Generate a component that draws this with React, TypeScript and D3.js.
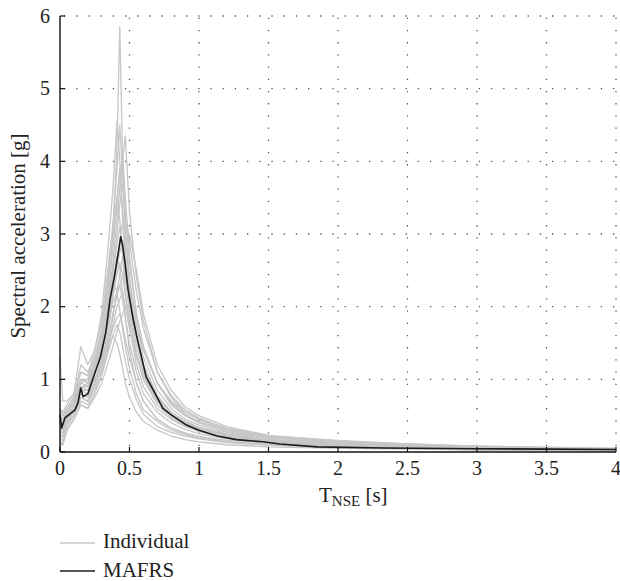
import React from "react";
import * as d3 from "d3";

const periods = [0, 0.02, 0.05, 0.1, 0.15, 0.2, 0.25, 0.3, 0.35, 0.38, 0.41, 0.43, 0.45, 0.47, 0.5, 0.55, 0.6, 0.7, 0.8, 0.9, 1.0, 1.2, 1.5, 2.0, 2.5, 3.0, 4.0];

const individual: number[][] = [
  [0.45, 0.4, 0.55, 0.7, 0.95, 1.0, 1.25, 1.6, 2.3, 3.0, 4.2, 5.85, 4.1, 3.0, 2.3, 1.6, 1.2, 0.75, 0.52, 0.4, 0.32, 0.22, 0.14, 0.09, 0.06, 0.05, 0.03],
  [0.6, 0.5, 0.6, 0.75, 1.1, 1.05, 1.4, 1.9, 2.9, 3.6, 4.55, 4.0, 3.2, 2.6, 2.0, 1.45, 1.1, 0.7, 0.5, 0.38, 0.3, 0.2, 0.13, 0.08, 0.06, 0.04, 0.03],
  [0.3, 0.35, 0.5, 0.65, 0.85, 0.95, 1.2, 1.7, 2.5, 3.1, 3.9, 4.5, 3.8, 3.1, 2.4, 1.75, 1.3, 0.85, 0.6, 0.45, 0.37, 0.25, 0.16, 0.1, 0.07, 0.05, 0.03],
  [0.5, 0.45, 0.55, 0.7, 1.0, 1.0, 1.2, 1.5, 2.1, 2.6, 3.2, 3.6, 4.0, 4.35, 3.3, 2.4, 1.8, 1.1, 0.75, 0.55, 0.45, 0.3, 0.2, 0.12, 0.08, 0.06, 0.04],
  [0.4, 0.3, 0.45, 0.6, 0.9, 0.9, 1.15, 1.55, 2.2, 2.8, 3.4, 3.8, 4.1, 3.5, 2.7, 1.9, 1.45, 0.95, 0.65, 0.5, 0.4, 0.27, 0.17, 0.11, 0.08, 0.05, 0.03],
  [0.55, 0.5, 0.6, 0.75, 1.2, 1.1, 1.3, 1.7, 2.4, 2.9, 3.5, 3.9, 3.4, 2.8, 2.2, 1.6, 1.2, 0.78, 0.55, 0.42, 0.34, 0.23, 0.15, 0.1, 0.06, 0.05, 0.03],
  [0.35, 0.3, 0.5, 0.6, 0.85, 0.85, 1.1, 1.45, 2.0, 2.5, 3.0, 3.4, 3.7, 3.3, 2.6, 1.9, 1.4, 0.95, 0.68, 0.52, 0.42, 0.3, 0.2, 0.13, 0.09, 0.06, 0.04],
  [1.3, 0.7, 0.7, 0.8, 1.45, 1.2, 1.4, 1.8, 2.6, 3.1, 3.5, 3.2, 2.7, 2.2, 1.7, 1.2, 0.9, 0.6, 0.45, 0.35, 0.28, 0.19, 0.12, 0.08, 0.05, 0.04, 0.02],
  [0.25, 0.2, 0.4, 0.55, 0.8, 0.75, 0.95, 1.25, 1.7, 2.1, 2.6, 2.9, 3.15, 3.3, 2.9, 2.2, 1.7, 1.1, 0.78, 0.58, 0.47, 0.32, 0.21, 0.14, 0.1, 0.07, 0.04],
  [0.45, 0.4, 0.55, 0.7, 1.0, 0.95, 1.15, 1.45, 2.0, 2.45, 2.85, 3.1, 2.8, 2.4, 1.9, 1.35, 1.0, 0.65, 0.47, 0.36, 0.29, 0.2, 0.13, 0.09, 0.06, 0.04, 0.03],
  [0.5, 0.35, 0.5, 0.65, 0.95, 0.9, 1.1, 1.4, 1.85, 2.2, 2.55, 2.75, 2.9, 2.6, 2.1, 1.55, 1.15, 0.75, 0.55, 0.42, 0.34, 0.24, 0.17, 0.12, 0.08, 0.05, 0.03],
  [0.2, 0.15, 0.35, 0.5, 0.75, 0.7, 0.95, 1.3, 1.9, 2.3, 2.7, 2.55, 2.2, 1.85, 1.4, 0.95, 0.7, 0.45, 0.33, 0.26, 0.21, 0.15, 0.1, 0.07, 0.05, 0.03, 0.02],
  [0.4, 0.35, 0.5, 0.65, 0.9, 0.85, 1.0, 1.25, 1.6, 1.9, 2.15, 2.3, 2.4, 2.5, 2.3, 1.85, 1.45, 0.95, 0.65, 0.5, 0.4, 0.28, 0.19, 0.15, 0.1, 0.07, 0.04],
  [0.6, 0.55, 0.65, 0.8, 1.1, 1.05, 1.3, 1.65, 2.15, 2.35, 2.2, 1.95, 1.7, 1.45, 1.15, 0.8, 0.58, 0.42, 0.3, 0.24, 0.19, 0.14, 0.1, 0.07, 0.05, 0.04, 0.02],
  [0.3, 0.25, 0.4, 0.5, 0.7, 0.65, 0.85, 1.1, 1.5, 1.75, 2.0, 2.1, 2.2, 2.0, 1.7, 1.3, 1.0, 0.7, 0.5, 0.4, 0.33, 0.24, 0.17, 0.12, 0.09, 0.06, 0.04],
  [0.15, 0.1, 0.3, 0.45, 0.65, 0.6, 0.75, 0.95, 1.25, 1.45, 1.65, 1.8, 1.9, 2.0, 2.05, 1.75, 1.4, 0.95, 0.7, 0.55, 0.45, 0.33, 0.22, 0.16, 0.11, 0.08, 0.05],
  [0.5, 0.45, 0.55, 0.7, 0.9, 0.85, 1.0, 1.2, 1.5, 1.7, 1.85, 1.9, 1.75, 1.55, 1.3, 0.95, 0.7, 0.45, 0.33, 0.26, 0.21, 0.16, 0.13, 0.15, 0.1, 0.06, 0.04],
  [0.35, 0.3, 0.45, 0.55, 0.75, 0.7, 0.9, 1.15, 1.45, 1.6, 1.75, 1.65, 1.45, 1.25, 1.0, 0.72, 0.52, 0.35, 0.27, 0.22, 0.18, 0.13, 0.09, 0.06, 0.05, 0.03, 0.02],
  [0.45, 0.4, 0.5, 0.65, 0.95, 0.9, 1.1, 1.35, 1.8, 2.15, 2.45, 2.6, 2.45, 2.15, 1.8, 1.35, 1.05, 0.7, 0.5, 0.4, 0.33, 0.23, 0.16, 0.11, 0.08, 0.05, 0.03],
  [0.3, 0.25, 0.45, 0.6, 0.85, 0.8, 0.95, 1.2, 1.55, 1.85, 2.2, 2.45, 2.7, 2.85, 3.0, 2.5, 1.9, 1.2, 0.85, 0.62, 0.5, 0.35, 0.23, 0.15, 0.11, 0.08, 0.05],
  [0.1, 0.1, 0.3, 0.45, 0.65, 0.6, 0.8, 1.05, 1.4, 1.6, 1.5, 1.35, 1.15, 0.95, 0.75, 0.55, 0.42, 0.3, 0.22, 0.17, 0.14, 0.1, 0.07, 0.05, 0.04, 0.03, 0.02],
  [0.55, 0.5, 0.6, 0.75, 1.0, 0.95, 1.15, 1.4, 1.8, 2.05, 2.2, 2.3, 2.1, 1.85, 1.5, 1.1, 0.8, 0.55, 0.4, 0.31, 0.25, 0.18, 0.12, 0.09, 0.07, 0.05, 0.03],
];

const meanPeriods = [0, 0.012, 0.036, 0.07, 0.108, 0.13, 0.149, 0.166, 0.2, 0.25, 0.29, 0.33, 0.36, 0.39, 0.42, 0.437, 0.45, 0.468, 0.49, 0.527, 0.563, 0.62, 0.683, 0.74, 0.8, 0.91, 1.0, 1.13, 1.27, 1.46, 1.58, 1.85, 2.33, 3.0, 3.5, 4.0];
const meanValues = [0.51, 0.33, 0.47, 0.52, 0.58, 0.68, 0.88, 0.76, 0.8, 1.08, 1.3, 1.65, 2.1, 2.4, 2.75, 2.96, 2.85, 2.6, 2.23, 1.82, 1.5, 1.03, 0.81, 0.6, 0.51, 0.37, 0.3, 0.22, 0.17, 0.14, 0.11, 0.07, 0.055, 0.045, 0.04, 0.035];

const xTicks = [0, 0.5, 1, 1.5, 2, 2.5, 3, 3.5, 4];
const yTicks = [0, 1, 2, 3, 4, 5, 6];
const legendItems = ["Individual", "MAFRS"];

const W = 620, H = 581;
const left = 60, right = 616, top = 16, bottom = 452;
const FONT = '"Liberation Serif", "Times New Roman", Tinos, "Nimbus Roman", FreeSerif';

function Txt(props: any) {
  const { children, ...rest } = props;
  return (
    <text fill="#222" fontFamily={FONT} {...rest} style={{ fontFamily: FONT }}>
      {children}
    </text>
  );
}

export default function App() {
  const x = d3.scaleLinear().domain([0, 4]).range([left, right]);
  const y = d3.scaleLinear().domain([0, 6]).range([bottom, top]);
  const line = d3.line<[number, number]>().x((d) => x(d[0])).y((d) => y(d[1]));
  const grey = "#c6c6c6";
  const dark = "#1c1c1c";

  return (
    <div style={{ position: "absolute", left: 0, top: 0, width: W, height: H, fontFamily: FONT }}>
      <svg width={W} height={H} style={{ display: "block", background: "#fff" }} fontFamily={FONT}>
        {xTicks.slice(1).map((t) => (
          <line key={"gx" + t} x1={x(t)} x2={x(t)} y1={bottom} y2={top} stroke="#555" strokeWidth={1.3} strokeDasharray="1.3 10.9" strokeDashoffset={-6} />
        ))}
        {yTicks.slice(1).map((t) => (
          <line key={"gy" + t} x1={left} x2={right} y1={y(t)} y2={y(t)} stroke="#555" strokeWidth={1.3} strokeDasharray="1.3 10.9" strokeDashoffset={-4} />
        ))}
        {individual.map((vals, i) => (
          <path key={"ind" + i} d={line(periods.map((p, j) => [p, vals[j]] as [number, number])) || ""} fill="none" stroke={grey} strokeWidth={1.3} strokeLinejoin="round" />
        ))}
        <path d={line(meanPeriods.map((p, j) => [p, meanValues[j]] as [number, number])) || ""} fill="none" stroke={dark} strokeWidth={1.6} strokeLinejoin="round" />
        <line x1={left} x2={left} y1={top} y2={bottom} stroke="#111" strokeWidth={1.4} />
        <line x1={left} x2={right} y1={bottom} y2={bottom} stroke="#111" strokeWidth={1.4} />
        {xTicks.map((t) => (
          <g key={"xt" + t}>
            <line x1={x(t)} x2={x(t)} y1={bottom} y2={bottom - 5} stroke="#111" strokeWidth={1.2} />
            <Txt x={x(t)} y={bottom + 23} textAnchor="middle" fontSize={20}>{String(t)}</Txt>
          </g>
        ))}
        {yTicks.map((t) => (
          <g key={"yt" + t}>
            <line x1={left} x2={left + 5} y1={y(t)} y2={y(t)} stroke="#111" strokeWidth={1.2} />
            <Txt x={50} y={y(t) + 6.5} textAnchor="end" fontSize={20}>{String(t)}</Txt>
          </g>
        ))}
        <Txt x={319} y={502} fontSize={21}>
          T<tspan fontSize={15} dy={4}>NSE</tspan><tspan dy={-4}> [s]</tspan>
        </Txt>
        <Txt transform={`translate(25,${(top + bottom) / 2 + 2}) rotate(-90)`} textAnchor="middle" fontSize={21}>Spectral acceleration [g]</Txt>
        {legendItems.map((name, i) => (
          <g key={name}>
            <line x1={60} x2={95} y1={543 + i * 28} y2={543 + i * 28} stroke={i === 0 ? grey : dark} strokeWidth={i === 0 ? 1.3 : 1.6} />
            <Txt x={103} y={548 + i * 29} fontSize={21}>{name}</Txt>
          </g>
        ))}
      </svg>
    </div>
  );
}
